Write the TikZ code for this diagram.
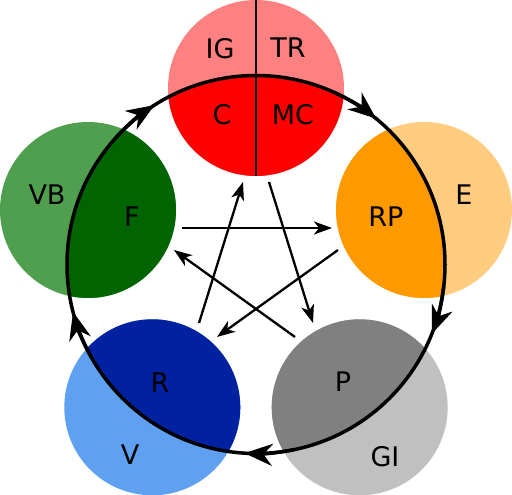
\documentclass[tikz,border=0pt]{standalone}
\usepackage{fontspec}
\setmainfont{DejaVu Sans}
\usetikzlibrary{arrows.meta,calc}
\definecolor{redL}{HTML}{FF8080}
\definecolor{redD}{HTML}{FF0000}
\definecolor{greenL}{HTML}{4F9F4F}
\definecolor{greenD}{HTML}{006400}
\definecolor{orangeL}{HTML}{FFCC80}
\definecolor{orangeD}{HTML}{FF9900}
\definecolor{blueL}{HTML}{60A0F0}
\definecolor{blueD}{HTML}{0022A0}
\definecolor{greyL}{HTML}{C0C0C0}
\definecolor{greyD}{HTML}{808080}
\begin{document}
\begin{tikzpicture}[x=1pt,y=1pt,
  disc/.style={circle,minimum size=176pt,inner sep=0pt,draw=none},
  lbl/.style={font=\fontsize{27}{27}\selectfont,inner sep=0pt,text depth=0pt},
  starline/.style={line width=2.3pt,-{Stealth[length=18pt,width=13pt,inset=5pt]}},
  bigline/.style={line width=3.5pt},
  bigtip/.tip={Stealth[length=28pt,width=22pt,inset=9pt]}]
\useasboundingbox (0,0) rectangle (512,495);
\coordinate (O) at (256,230.5);
% circles (light parts)
\node[disc,fill=redL]    (Ctop) at (256,407) {};
\node[disc,fill=greenL]  (Cf)   at (88,285) {};
\node[disc,fill=orangeL] (Crp)  at (424,285) {};
\node[disc,fill=blueL]   (Cr)   at (152.3,87.7) {};
\node[disc,fill=greyL]   (Cp)   at (359.7,87.7) {};
% dark parts inside the big circle
\begin{scope}
  \clip (O) circle (189);
  \fill[redD]    (Ctop) circle (88);
  \fill[greenD]  (Cf)   circle (88);
  \fill[orangeD] (Crp)  circle (88);
  \fill[blueD]   (Cr)   circle (88);
  \fill[greyD]   (Cp)   circle (88);
\end{scope}
% divider of the top circle
\draw[line width=2.4pt] (Ctop.north) -- (Ctop.south);
% big cycle
\draw[bigline] (O) circle (189);
% arrowheads on the cycle, tangent, pointing clockwise
\foreach \a in {50.5,-21.5,-93.5,-165.5,122.5}{
  \draw[bigline,-{bigtip}] ($(O)+(\a+15:189)$)
     arc[start angle=\a+15, end angle=\a, radius=189];
}
% pentagram connectors
\coordinate (fA) at (182,267);  \coordinate (rpA) at (332,267);
\coordinate (rB) at (199,172);  \coordinate (cB) at (243,313);
\coordinate (cC) at (269,313);  \coordinate (pC) at (313,172);
\coordinate (rpD) at (338,245); \coordinate (rD) at (217,158);
\coordinate (pE) at (295,158);  \coordinate (fE) at (174,245);
\draw[starline] (fA) -- (rpA);
\draw[starline] (rB) -- (cB);
\draw[starline] (cC) -- (pC);
\draw[starline] (rpD) -- (rD);
\draw[starline] (pE) -- (fE);
% labels
\node[lbl] (tIG) at (220,447) {IG};
\node[lbl] (tTR) at (288,447) {TR};
\node[lbl] (tC)  at (222,381) {C};
\node[lbl] (tMC) at (293,381) {MC};
\node[lbl] (tVB) at (47,300)  {VB};
\node[lbl] (tF)  at (132,278) {F};
\node[lbl] (tRP) at (386,278) {RP};
\node[lbl] (tE)  at (464,300) {E};
\node[lbl] (tR)  at (160,112) {R};
\node[lbl] (tV)  at (130,40)  {V};
\node[lbl] (tP)  at (343,113) {P};
\node[lbl] (tGI) at (385,39)  {GI};
\end{tikzpicture}
\end{document}
